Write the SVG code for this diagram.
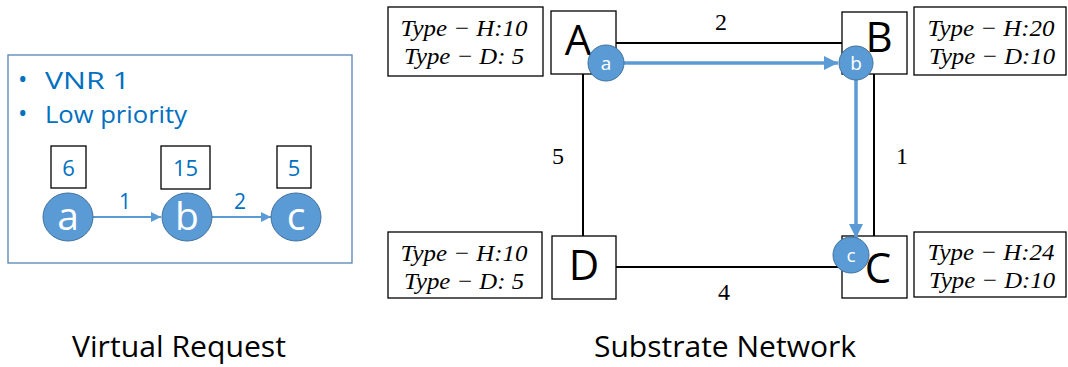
<svg xmlns="http://www.w3.org/2000/svg" width="1068" height="367" viewBox="0 0 1068 367">
<style>
.sans{font-family:"Open Sans","Noto Sans","Liberation Sans",sans-serif}
.serif{font-family:"Liberation Serif","DejaVu Serif",serif}
.blue{fill:#0070C0}
.box{fill:#fff;stroke:#000;stroke-width:1.3}
.vc{fill:#5B9BD5;stroke:#41719C;stroke-width:1}
.ctext{fill:#fff;text-anchor:middle}
.lbl{font-family:"Liberation Serif","DejaVu Serif",serif;font-style:italic;font-size:24px;text-anchor:middle}
.edge{stroke:#000;stroke-width:2;fill:none}
.vl{stroke:#5B9BD5;fill:none}
</style>
<defs>
<marker id="arrS" viewBox="0 0 10 10" refX="10" refY="5" markerWidth="5" markerHeight="5" orient="auto" markerUnits="strokeWidth"><path d="M0,0 L10,5 L0,10 z" fill="#5B9BD5"/></marker>
<marker id="arrL" viewBox="0 0 10 10" refX="10" refY="5" markerWidth="4" markerHeight="4" orient="auto" markerUnits="strokeWidth"><path d="M0,0 L10,5 L0,10 z" fill="#5B9BD5"/></marker>
</defs>

<!-- Virtual request panel -->
<g id="vr-panel">
<rect x="8" y="55" width="344" height="208" fill="#fff" stroke="#5584B4" stroke-width="1.3"/>
<text class="sans blue" x="18" y="88" font-size="25">•</text>
<text class="sans blue" x="45" y="89" font-size="23" textLength="85" lengthAdjust="spacingAndGlyphs">VNR 1</text>
<text class="sans blue" x="18" y="122" font-size="25">•</text>
<text class="sans blue" x="45" y="123" font-size="23" textLength="142" lengthAdjust="spacingAndGlyphs">Low priority</text>
</g>

<g id="connectors">
<line class="vl" x1="93" y1="217" x2="161" y2="217" stroke-width="2" marker-end="url(#arrS)"/>
<line class="vl" x1="212" y1="217" x2="271" y2="217" stroke-width="2" marker-end="url(#arrS)"/>
<text class="sans blue" x="125" y="209" font-size="21" text-anchor="middle">1</text>
<text class="sans blue" x="240" y="209" font-size="21" text-anchor="middle">2</text>

<line class="edge" x1="616" y1="43" x2="842" y2="43"/>
<line class="edge" x1="583" y1="74" x2="583" y2="236"/>
<line class="edge" x1="874" y1="74" x2="874" y2="236"/>
<line class="edge" x1="616" y1="267" x2="842" y2="267"/>
<text class="serif" x="721" y="30" font-size="24" text-anchor="middle">2</text>
<text class="serif" x="558" y="164" font-size="24" text-anchor="middle">5</text>
<text class="serif" x="902" y="164" font-size="24" text-anchor="middle">1</text>
<text class="serif" x="724" y="300" font-size="24" text-anchor="middle">4</text>
</g>

<g id="vnode-a">
<rect class="box" x="51" y="146" width="35" height="42"/>
<text class="sans blue" x="68.5" y="176" font-size="22" text-anchor="middle">6</text>
<ellipse class="vc" cx="68" cy="217" rx="25" ry="24"/>
<text class="sans ctext" x="68" y="230" font-size="39">a</text>
</g>
<g id="vnode-b">
<rect class="box" x="161" y="146" width="49" height="43"/>
<text class="sans blue" x="185.5" y="176" font-size="22" text-anchor="middle">15</text>
<ellipse class="vc" cx="187" cy="217" rx="25" ry="24"/>
<text class="sans ctext" x="187" y="230" font-size="39">b</text>
</g>
<g id="vnode-c">
<rect class="box" x="277" y="146" width="34" height="42"/>
<text class="sans blue" x="294" y="176" font-size="22" text-anchor="middle">5</text>
<ellipse class="vc" cx="296" cy="217" rx="25" ry="24"/>
<text class="sans ctext" x="296" y="230" font-size="39">c</text>
</g>

<g id="node-A">
<rect class="box" x="388" y="7" width="155" height="69"/>
<text class="lbl" x="464" y="36" textLength="127" lengthAdjust="spacingAndGlyphs">Type − H:10</text>
<text class="lbl" x="464" y="64" textLength="120" lengthAdjust="spacingAndGlyphs">Type − D: 5</text>
<rect class="box" x="551" y="11" width="65" height="63"/>
<text class="sans" x="578" y="55" font-size="42" text-anchor="middle">A</text>
</g>
<g id="node-B">
<rect class="box" x="914" y="7" width="152" height="68"/>
<text class="lbl" x="991" y="36" textLength="127" lengthAdjust="spacingAndGlyphs">Type − H:20</text>
<text class="lbl" x="992" y="64" textLength="126" lengthAdjust="spacingAndGlyphs">Type − D:10</text>
<rect class="box" x="842" y="12" width="65" height="62"/>
<text class="sans" x="879" y="52" font-size="42" text-anchor="middle">B</text>
</g>
<g id="node-C">
<rect class="box" x="914" y="232" width="152" height="65"/>
<text class="lbl" x="991" y="260" textLength="127" lengthAdjust="spacingAndGlyphs">Type − H:24</text>
<text class="lbl" x="992" y="288" textLength="126" lengthAdjust="spacingAndGlyphs">Type − D:10</text>
<rect class="box" x="842" y="236" width="65" height="62"/>
<text class="sans" x="878" y="283" font-size="42" text-anchor="middle">C</text>
</g>
<g id="node-D">
<rect class="box" x="388" y="232" width="154" height="66"/>
<text class="lbl" x="464" y="261" textLength="127" lengthAdjust="spacingAndGlyphs">Type − H:10</text>
<text class="lbl" x="464" y="289" textLength="120" lengthAdjust="spacingAndGlyphs">Type − D: 5</text>
<rect class="box" x="552" y="236" width="64" height="63"/>
<text class="sans" x="584" y="280" font-size="42" text-anchor="middle">D</text>
</g>

<g id="mapping">
<line class="vl" x1="624" y1="63" x2="838" y2="63" stroke-width="3.5" marker-end="url(#arrL)"/>
<line class="vl" x1="856" y1="80" x2="856" y2="238" stroke-width="3.5" marker-end="url(#arrL)"/>
</g>
<g id="snode-a">
<circle class="vc" cx="606" cy="63" r="18"/>
<text class="sans ctext" x="606" y="70" font-size="19">a</text>
</g>
<g id="snode-b">
<circle class="vc" cx="856" cy="63" r="17"/>
<text class="sans ctext" x="856" y="70" font-size="19">b</text>
</g>
<g id="snode-c">
<circle class="vc" cx="851" cy="255" r="18"/>
<text class="sans ctext" x="851" y="262" font-size="19">c</text>
</g>

<g id="captions">
<text class="sans" x="179" y="357" font-size="29" text-anchor="middle" textLength="214" lengthAdjust="spacingAndGlyphs">Virtual Request</text>
<text class="sans" x="725" y="357" font-size="29" text-anchor="middle" textLength="262" lengthAdjust="spacingAndGlyphs">Substrate Network</text>
</g>
</svg>
